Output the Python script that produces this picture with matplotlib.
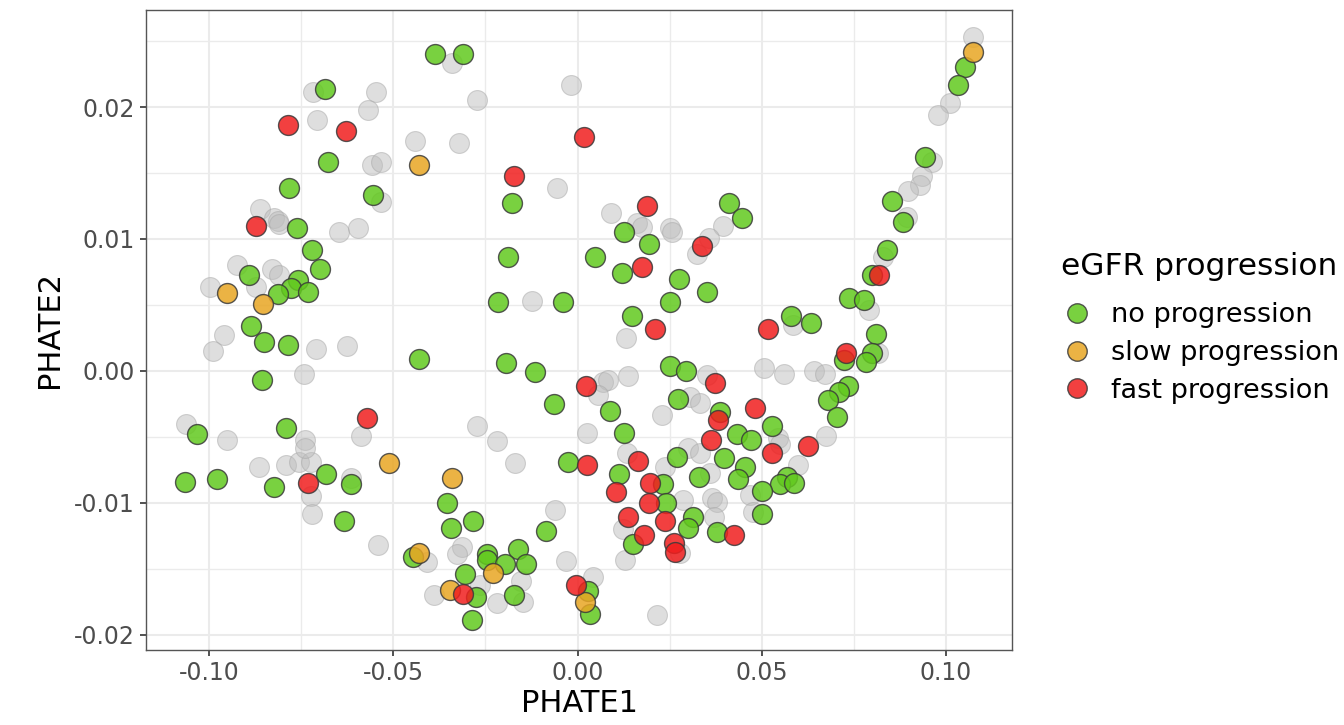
import matplotlib
matplotlib.use("Agg")
import matplotlib.pyplot as plt
from matplotlib.lines import Line2D
from matplotlib.ticker import MultipleLocator

# background (all samples) points
bg_x = [-0.0718, -0.0547, -0.0569, -0.0707, -0.0441, -0.0558, -0.0533, -0.0533, -0.0862, -0.0824,
        -0.0813, -0.0810, -0.0647, -0.0596, -0.0341, -0.0018, -0.0273, -0.0322, -0.0056, 0.0091,
        0.0161, 0.0175, 0.0251, 0.0395, 0.1073, 0.1011, 0.0978, 0.0962, 0.0935, 0.0929,
        0.0897, 0.0894, -0.0924, -0.0829, -0.0810, -0.0872, -0.0997, -0.0959, -0.0989, -0.0710,
        -0.0626, -0.0742, -0.1062, -0.0588, -0.0951, -0.0739, -0.0123, 0.0132, 0.0069, 0.0083,
        0.0137, 0.0056, 0.0351, 0.0305, 0.0332, 0.0229, -0.0273, 0.0026, -0.0218, 0.0256,
        0.0324, 0.0357, 0.0829, 0.0791, 0.0585, 0.0815, 0.0506, 0.0560, 0.0642, 0.0672,
        0.0674, 0.0544, -0.0864, -0.0791, -0.0756, -0.0723, -0.0739, -0.0615, -0.0723, -0.0720,
        -0.0541, -0.0409, -0.0389, -0.0170, 0.0134, 0.0300, 0.0332, 0.0237, 0.0360, 0.0286,
        0.0365, 0.0379, -0.0061, 0.0370, 0.0123, 0.0129, 0.0278, -0.0313, -0.0327, -0.0031,
        -0.0153, 0.0042, -0.0265, -0.0148, -0.0218, 0.0216, 0.0550, 0.0598, 0.0468, 0.0476]
bg_y = [0.0211, 0.0211, 0.0198, 0.0190, 0.0174, 0.0156, 0.0158, 0.0128, 0.0123, 0.0116,
        0.0114, 0.0111, 0.0105, 0.0108, 0.0233, 0.0217, 0.0205, 0.0173, 0.0139, 0.0120,
        0.0112, 0.0109, 0.0108, 0.0110, 0.0253, 0.0203, 0.0194, 0.0158, 0.0148, 0.0141,
        0.0136, 0.0117, 0.0080, 0.0077, 0.0073, 0.0064, 0.0064, 0.0027, 0.0015, 0.0017,
        0.0019, -0.0002, -0.0040, -0.0049, -0.0052, -0.0052, 0.0053, 0.0025, -0.0008, -0.0007,
        -0.0004, -0.0018, -0.0003, -0.0020, -0.0024, -0.0033, -0.0042, -0.0047, -0.0053, 0.0105,
        0.0089, 0.0101, 0.0086, 0.0046, 0.0035, 0.0014, 0.0002, -0.0002, 0.0000, -0.0002,
        -0.0049, -0.0051, -0.0073, -0.0071, -0.0069, -0.0069, -0.0058, -0.0081, -0.0095, -0.0108,
        -0.0132, -0.0145, -0.0170, -0.0070, -0.0062, -0.0058, -0.0062, -0.0073, -0.0077, -0.0098,
        -0.0096, -0.0099, -0.0105, -0.0111, -0.0120, -0.0143, -0.0138, -0.0133, -0.0139, -0.0144,
        -0.0159, -0.0156, -0.0162, -0.0175, -0.0176, -0.0185, -0.0055, -0.0071, -0.0094, -0.0107]

# no progression
no_x = [-0.0387, -0.0311, -0.0685, -0.0677, -0.0783, -0.0555, -0.0761, -0.0720, -0.0891, -0.0699,
        -0.0758, -0.0777, -0.0813, -0.0731, -0.0886, -0.0851, -0.0786, -0.0430, -0.0856, -0.1033,
        -0.0791, -0.1065, -0.0978, -0.0824, -0.0683, -0.0615, -0.0634, -0.0446, -0.0178, 0.0126,
        0.0194, -0.0189, 0.0047, 0.0121, 0.0275, 0.0351, -0.0216, -0.0039, 0.0251, 0.0148,
        -0.0194, -0.0115, 0.0251, 0.0294, -0.0064, 0.0088, 0.0273, 0.0387, 0.0126, 0.0411,
        0.0446, 0.1052, 0.1033, 0.0943, 0.0853, 0.0883, 0.0840, 0.0799, 0.0737, 0.0777,
        0.0579, 0.0634, 0.0810, 0.0723, 0.0799, 0.0783, 0.0734, 0.0710, 0.0680, 0.0704,
        0.0528, 0.0433, 0.0471, 0.0398, 0.0455, 0.0436, 0.0569, 0.0550, 0.0588, 0.0501,
        0.0501, 0.0379, 0.0270, 0.0113, -0.0026, 0.0330, 0.0232, 0.0240, 0.0313, 0.0300,
        -0.0354, -0.0343, -0.0284, -0.0085, 0.0151, -0.0161, -0.0246, -0.0246, -0.0197, -0.0140,
        -0.0305, 0.0028, 0.0034, -0.0275, -0.0172, -0.0286]
no_y = [0.0240, 0.0240, 0.0214, 0.0158, 0.0139, 0.0133, 0.0108, 0.0092, 0.0073, 0.0077,
        0.0069, 0.0063, 0.0058, 0.0060, 0.0034, 0.0022, 0.0020, 0.0009, -0.0007, -0.0048,
        -0.0043, -0.0084, -0.0082, -0.0088, -0.0078, -0.0086, -0.0114, -0.0141, 0.0127, 0.0105,
        0.0096, 0.0086, 0.0086, 0.0074, 0.0070, 0.0060, 0.0052, 0.0052, 0.0052, 0.0042,
        0.0006, -0.0001, 0.0004, 0.0000, -0.0025, -0.0030, -0.0021, -0.0031, -0.0047, 0.0127,
        0.0116, 0.0230, 0.0217, 0.0162, 0.0129, 0.0113, 0.0092, 0.0073, 0.0055, 0.0054,
        0.0042, 0.0036, 0.0028, 0.0008, 0.0014, 0.0007, -0.0011, -0.0016, -0.0022, -0.0035,
        -0.0042, -0.0048, -0.0052, -0.0066, -0.0073, -0.0082, -0.0080, -0.0086, -0.0085, -0.0091,
        -0.0108, -0.0122, -0.0065, -0.0078, -0.0069, -0.0080, -0.0086, -0.0100, -0.0111, -0.0119,
        -0.0100, -0.0119, -0.0114, -0.0121, -0.0131, -0.0135, -0.0139, -0.0143, -0.0146, -0.0146,
        -0.0154, -0.0167, -0.0184, -0.0171, -0.0170, -0.0189]

# slow progression
slow_x = [-0.0430, -0.0951, -0.0853, -0.0512, -0.0341, -0.0430, -0.0229, -0.0346, 0.0020, 0.1073]
slow_y = [0.0156, 0.0059, 0.0051, -0.0070, -0.0081, -0.0138, -0.0153, -0.0166, -0.0175, 0.0242]

# fast progression
fast_x = [-0.0786, -0.0628, 0.0018, -0.0172, 0.0189, -0.0872, 0.0175, 0.0338, 0.0210, -0.0571,
          0.0023, 0.0373, 0.0381, 0.0362, 0.0482, 0.0517, 0.0818, 0.0729, 0.0626, 0.0528,
          0.0425, 0.0164, 0.0026, 0.0104, 0.0197, 0.0194, 0.0137, 0.0237, 0.0180, 0.0262,
          0.0265, -0.0004, -0.0311, -0.0731]
fast_y = [0.0186, 0.0182, 0.0177, 0.0148, 0.0125, 0.0110, 0.0079, 0.0095, 0.0032, -0.0036,
          -0.0011, -0.0009, -0.0037, -0.0052, -0.0028, 0.0032, 0.0073, 0.0014, -0.0057, -0.0062,
          -0.0124, -0.0068, -0.0071, -0.0092, -0.0085, -0.0100, -0.0111, -0.0114, -0.0124, -0.0130,
          -0.0137, -0.0162, -0.0169, -0.0085]

groups = ["no progression", "slow progression", "fast progression"]
colors = ["#62C91E", "#E8A623", "#F01E1E"]

fig = plt.figure(figsize=(13.44, 7.25), dpi=100)
ax = fig.add_axes([146 / 1344, 1 - 650 / 725, 866 / 1344, 640 / 725])

ax.scatter(bg_x, bg_y, s=205, facecolor="#BEBEBE", edgecolor="#A8A8A8",
           linewidth=0.8, alpha=0.5, zorder=2)
for gx, gy, name, col in zip([no_x, slow_x, fast_x], [no_y, slow_y, fast_y], groups, colors):
    ax.scatter(gx, gy, s=205, facecolor=col, edgecolor="#3A3A3A",
               linewidth=1.0, alpha=0.85, zorder=3)

ax.set_xlim(-0.1171, 0.1179)
ax.set_ylim(-0.02114, 0.02735)

ax.set_xticks([-0.10, -0.05, 0.00, 0.05, 0.10])
ax.set_xticklabels(["-0.10", "-0.05", "0.00", "0.05", "0.10"])
ax.set_yticks([-0.02, -0.01, 0.00, 0.01, 0.02])
ax.set_yticklabels(["-0.02", "-0.01", "0.00", "0.01", "0.02"])
ax.xaxis.set_minor_locator(MultipleLocator(0.025))
ax.yaxis.set_minor_locator(MultipleLocator(0.005))

ax.grid(True, which="major", color="#EBEBEB", linewidth=1.5, zorder=0)
ax.grid(True, which="minor", color="#EBEBEB", linewidth=1.0, zorder=0)
ax.set_axisbelow(True)
ax.tick_params(which="major", length=4, width=1.2, color="#333333",
               labelsize=17, labelcolor="#4D4D4D", pad=4)
ax.tick_params(which="minor", length=0)
for sp in ax.spines.values():
    sp.set_color("#555555")
    sp.set_linewidth(1.0)

ax.set_xlabel("PHATE1", fontsize=22, labelpad=3)
ax.set_ylabel("PHATE2", fontsize=22, labelpad=7)

# legend: title drawn separately to get ggplot-like spacing
fig.text(1061 / 1344, 1 - 267 / 725, "eGFR progression", fontsize=22.5,
         ha="left", va="center")
handles = [Line2D([0], [0], marker="o", linestyle="", markersize=14,
                  markerfacecolor=c, markeredgecolor="#3A3A3A", alpha=0.85)
           for c in colors]
fig.legend(handles, groups, loc="center left",
           bbox_to_anchor=(1039 / 1344, 1 - 353 / 725), frameon=False,
           fontsize=19.5, labelspacing=0.44, handletextpad=0.75, handlelength=1.0)

fig.savefig("out.png", dpi=100)
